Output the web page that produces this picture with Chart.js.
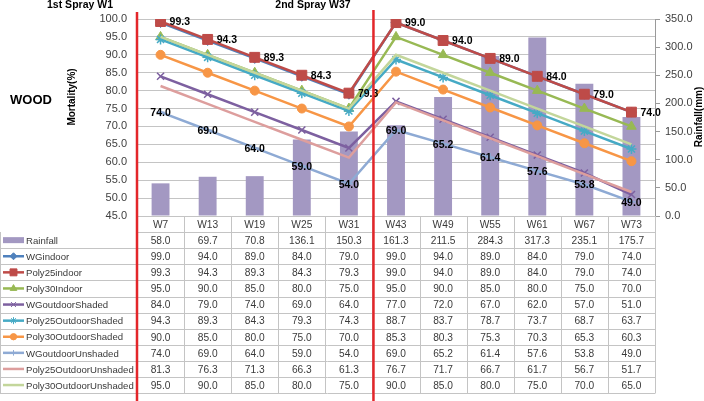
<!DOCTYPE html>
<html>
<head>
<meta charset="utf-8">
<script src="https://cdn.jsdelivr.net/npm/chart.js@4.4.1/dist/chart.umd.min.js"></script>
<style>
  html, body { margin: 0; padding: 0; background: #fff; }
  #wrap { width: 704px; height: 401px; }
</style>
</head>
<body>
<div id="wrap"><canvas id="woodChart" width="704" height="401"></canvas></div>
<script>
// weeks after first spray (W1); second spray at W37
const weeks = ['W7', 'W13', 'W19', 'W25', 'W31', 'W43', 'W49', 'W55', 'W61', 'W67', 'W73'];
const rainfall = [58.0, 69.7, 70.8, 136.1, 150.3, 161.3, 211.5, 284.3, 317.3, 235.1, 175.7];

const wgIndoor = [99.0, 94.0, 89.0, 84.0, 79.0, 99.0, 94.0, 89.0, 84.0, 79.0, 74.0];
const poly25Indoor = [99.3, 94.3, 89.3, 84.3, 79.3, 99.0, 94.0, 89.0, 84.0, 79.0, 74.0];
const poly30Indoor = [95.0, 90.0, 85.0, 80.0, 75.0, 95.0, 90.0, 85.0, 80.0, 75.0, 70.0];
const wgOutShaded = [84.0, 79.0, 74.0, 69.0, 64.0, 77.0, 72.0, 67.0, 62.0, 57.0, 51.0];
const poly25OutShaded = [94.3, 89.3, 84.3, 79.3, 74.3, 88.7, 83.7, 78.7, 73.7, 68.7, 63.7];
const poly30OutShaded = [90.0, 85.0, 80.0, 75.0, 70.0, 85.3, 80.3, 75.3, 70.3, 65.3, 60.3];
const wgOutUnshaded = [74.0, 69.0, 64.0, 59.0, 54.0, 69.0, 65.2, 61.4, 57.6, 53.8, 49.0];
const poly25OutUnshaded = [81.3, 76.3, 71.3, 66.3, 61.3, 76.7, 71.7, 66.7, 61.7, 56.7, 51.7];
const poly30OutUnshaded = [95.0, 90.0, 85.0, 80.0, 75.0, 90.0, 85.0, 80.0, 75.0, 70.0, 65.0];

const mortalityTicks = [45, 100, 5];   // min, max, step
const rainfallTicks = [0, 350, 50];

// series look (excel 2007 palette)
const series = [
  { name: 'WGindoor', data: wgIndoor, color: '#4f81bd', style: 'rectRot', r: 5 },
  { name: 'Poly25indoor', data: poly25Indoor, color: '#be4b48', style: 'rect', r: 7 },
  { name: 'Poly30Indoor', data: poly30Indoor, color: '#98b954', style: 'triangle', r: 5.5 },
  { name: 'WGoutdoorShaded', data: wgOutShaded, color: '#7d60a0', style: 'crossRot', r: 5 },
  { name: 'Poly25OutdoorShaded', data: poly25OutShaded, color: '#46aac5', style: 'star', r: 5 },
  { name: 'Poly30OutdoorShaded', data: poly30OutShaded, color: '#f79646', style: 'circle', r: 4.5 },
  { name: 'WGoutdoorUnshaded', data: wgOutUnshaded, color: '#8eaad4', style: 'cross', r: 4 },
  { name: 'Poly25OutdoorUnshaded', data: poly25OutUnshaded, color: '#dd9e9d', style: false, r: 0 },
  { name: 'Poly30OutdoorUnshaded', data: poly30OutUnshaded, color: '#c3d69b', style: false, r: 0 }
];
const barColor = '#a398c2';
const font = '"Liberation Sans", Arial, sans-serif';

const datasets = [{
  type: 'bar',
  label: 'Rainfall',
  data: rainfall,
  yAxisID: 'y2',
  backgroundColor: barColor,
  barPercentage: 0.38,
  categoryPercentage: 1,
  order: 20
}];
series.forEach((s, i) => {
  datasets.push({
    type: 'line',
    label: s.name,
    data: s.data,
    yAxisID: 'y',
    borderColor: s.color,
    backgroundColor: s.color,
    borderWidth: 2.5,
    pointStyle: s.style,
    pointRadius: s.r,
    pointBorderWidth: s.style === 'crossRot' || s.style === 'star' || s.style === 'cross' ? 1.5 : 1,
    pointBackgroundColor: s.color,
    pointBorderColor: s.color,
    tension: 0,
    order: 10 - i
  });
});

function drawMarker(ctx, s, x, y, r) {
  if (!s.style) return;
  ctx.fillStyle = s.color;
  ctx.strokeStyle = s.color;
  ctx.lineWidth = 1;
  Chart.helpers.drawPoint(ctx, { pointStyle: s.style, radius: r, rotation: 0, borderWidth: 1 }, x, y);
}

const overlay = {
  id: 'overlay',
  afterDatasetsDraw(chart) {
    const ctx = chart.ctx;
    const xs = chart.scales.x, ys = chart.scales.y;
    ctx.save();
    ctx.font = 'bold 10.5px ' + font;
    ctx.fillStyle = '#000';
    ctx.textBaseline = 'middle';
    ctx.textAlign = 'left';
    poly25Indoor.forEach((v, i) => {
      ctx.fillText(v.toFixed(1), xs.getPixelForValue(i) + 9, ys.getPixelForValue(v) + 1);
    });
    ctx.textAlign = 'center';
    wgOutUnshaded.forEach((v, i) => {
      ctx.fillText(v.toFixed(1), xs.getPixelForValue(i), ys.getPixelForValue(v) + 1);
    });
    ctx.restore();
  },
  afterDraw(chart) {
    const ctx = chart.ctx;
    const area = chart.chartArea;
    const xs = chart.scales.x;
    const step = xs.getPixelForValue(1) - xs.getPixelForValue(0);
    const rowH = 16.1;
    const top = area.bottom;
    const nRows = 11;
    const bottom = top + nRows * rowH;
    ctx.save();

    // data table grid
    ctx.strokeStyle = '#c4c4c4';
    ctx.lineWidth = 1;
    ctx.beginPath();
    for (let k = 1; k <= nRows; k++) {
      const yy = Math.round(top + k * rowH) + 0.5;
      ctx.moveTo(k === 1 ? area.left : 0, yy);
      ctx.lineTo(area.right, yy);
    }
    ctx.moveTo(0.5, Math.round(top + rowH));
    ctx.lineTo(0.5, Math.round(bottom) + 0.5);
    for (let j = 0; j <= weeks.length; j++) {
      const xx = Math.round(area.left + j * step) + 0.5;
      ctx.moveTo(xx, top);
      ctx.lineTo(xx, Math.round(bottom) + 0.5);
    }
    ctx.stroke();

    // table text
    const cellFont = '10.2px ' + font;
    const nameFont = '9.6px ' + font;
    ctx.font = cellFont;
    ctx.fillStyle = '#3a3a3a';
    ctx.textBaseline = 'middle';
    ctx.textAlign = 'center';
    weeks.forEach((w, i) => ctx.fillText(w, xs.getPixelForValue(i), top + rowH / 2 + 1));
    const rows = [{ name: 'Rainfall', data: rainfall, bar: true }].concat(series);
    rows.forEach((row, k) => {
      const cy = top + (k + 1.5) * rowH + 1;
      ctx.font = cellFont;
      ctx.fillStyle = '#3a3a3a';
      ctx.textAlign = 'center';
      row.data.forEach((v, i) => ctx.fillText(v.toFixed(1), xs.getPixelForValue(i), cy));
      ctx.font = nameFont;
      ctx.textAlign = 'left';
      ctx.fillText(row.name, 26, cy);
      if (row.bar) {
        ctx.fillStyle = barColor;
        ctx.fillRect(3, cy - 4, 21, 6);
      } else {
        ctx.strokeStyle = row.color;
        ctx.lineWidth = 2.5;
        ctx.beginPath();
        ctx.moveTo(3, cy - 1);
        ctx.lineTo(24, cy - 1);
        ctx.stroke();
        drawMarker(ctx, row, 13.5, cy - 1, row.r * 0.7);
      }
    });

    // titles
    ctx.fillStyle = '#000';
    ctx.textAlign = 'center';
    ctx.textBaseline = 'alphabetic';
    ctx.font = 'bold 10.5px ' + font;
    ctx.fillText('1st Spray W1', 80, 7.5);
    ctx.fillText('2nd Spray W37', 313, 7.5);
    ctx.font = 'bold 13px ' + font;
    ctx.textBaseline = 'middle';
    ctx.fillText('WOOD', 31, 100);
    ctx.font = 'bold 10px ' + font;
    ctx.save();
    ctx.translate(72, 97);
    ctx.rotate(-Math.PI / 2);
    ctx.fillText('Mortality(%)', 0, 0);
    ctx.restore();
    ctx.save();
    ctx.translate(699, 117);
    ctx.rotate(-Math.PI / 2);
    ctx.fillText('Rainfall(mm)', 0, 0);
    ctx.restore();

    // spray markers
    ctx.strokeStyle = '#e3262a';
    ctx.lineWidth = 2.5;
    ctx.beginPath();
    ctx.moveTo(area.left, 12);
    ctx.lineTo(area.left, 401);
    const sprayX = (xs.getPixelForValue(4) + xs.getPixelForValue(5)) / 2 + 1;
    ctx.moveTo(sprayX, 10);
    ctx.lineTo(sprayX, 401);
    ctx.stroke();
    ctx.restore();
  }
};

new Chart(document.getElementById('woodChart'), {
  data: { labels: weeks, datasets: datasets },
  options: {
    responsive: false,
    animation: false,
    devicePixelRatio: 1,
    layout: { padding: { left: 0, right: 0, top: 19, bottom: 185 } },
    plugins: { legend: { display: false }, tooltip: { enabled: false } },
    scales: {
      x: { type: 'category', offset: true, display: false },
      y: {
        position: 'left',
        min: mortalityTicks[0], max: mortalityTicks[1],
        ticks: {
          stepSize: mortalityTicks[2],
          padding: 10,
          color: '#404040',
          font: { family: font, size: 11 },
          callback: v => v.toFixed(1)
        },
        grid: { color: '#c4c4c4', drawTicks: false },
        border: { display: false },
        afterFit: s => { s.width = 137; }
      },
      y2: {
        position: 'right',
        min: rainfallTicks[0], max: rainfallTicks[1],
        ticks: {
          stepSize: rainfallTicks[2],
          padding: 5,
          color: '#404040',
          font: { family: font, size: 11 },
          callback: v => v.toFixed(1)
        },
        grid: { drawOnChartArea: false, drawTicks: true, tickLength: 5, color: '#9a9a9a' },
        border: { display: true, color: '#9a9a9a' },
        afterFit: s => { s.width = 49; }
      }
    }
  },
  plugins: [overlay]
});
</script>
</body>
</html>
